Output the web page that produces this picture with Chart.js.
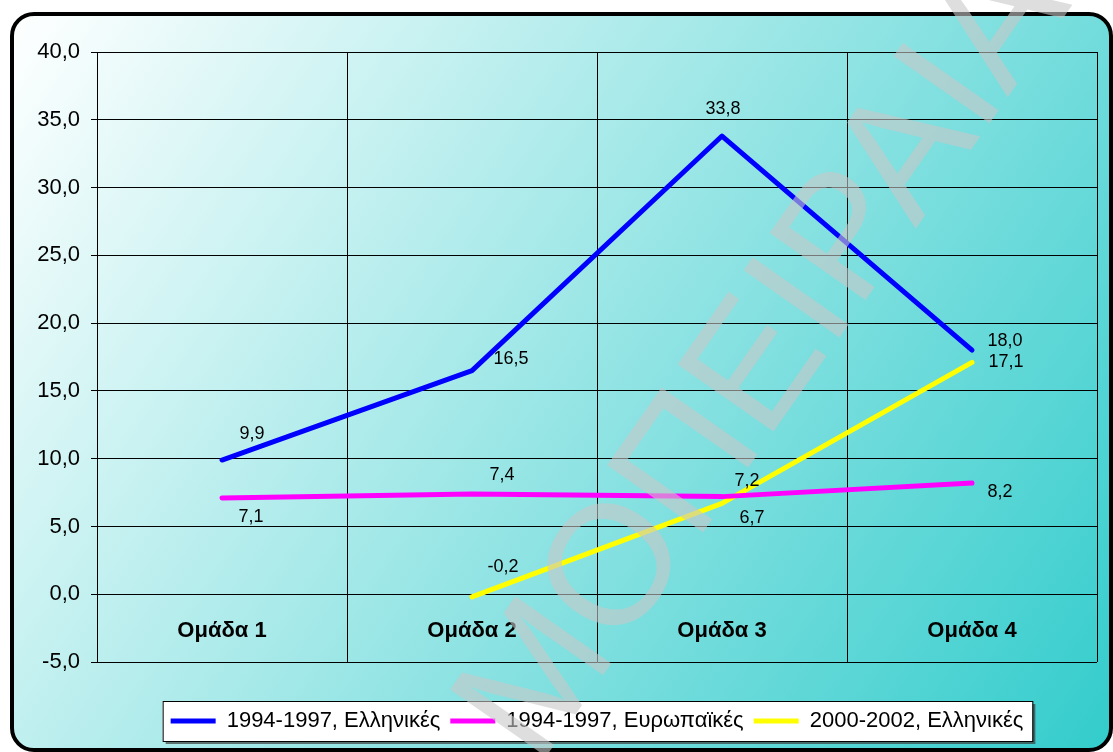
<!DOCTYPE html>
<html><head><meta charset="utf-8">
<script src="https://cdn.jsdelivr.net/npm/chart.js@4.4.0/dist/chart.umd.min.js"></script>
<style>html,body{margin:0;padding:0;background:#fff;}canvas{display:block;}</style>
</head><body>
<canvas id="c" width="1113" height="752"></canvas>
<script>
// ---- data ----
const categories = ['Ομάδα 1', 'Ομάδα 2', 'Ομάδα 3', 'Ομάδα 4'];
const seriesNames = ['1994-1997, Ελληνικές', '1994-1997, Ευρωπαϊκές', '2000-2002, Ελληνικές'];
const greek9497 = [9.9, 16.5, 33.8, 18.0];
const euro9497 = [7.1, 7.4, 7.2, 8.2];
const greek0002 = [null, -0.2, 6.7, 17.1];
const yMin = -5, yMax = 40, yStep = 5;
const watermarkText = 'ΜΟΠΕΙΡΑΙΑ';

// ---- style ----
const FONT = '"Liberation Sans", Arial, sans-serif';
const seriesColors = ['#0000ff', '#ff00ff', '#ffff00'];
const labelOffsets = [
  [[30, -26], [39, -12], [1, -27], [33, -9]],
  [[29, 19], [30, -19], [25, -16], [28, 9]],
  [[0, 0], [31, -30], [30, 15], [34, 0]]
];
const fmt = v => Number(v).toFixed(1).replace('.', ',');

const backgroundPlugin = {
  id: 'bg',
  beforeDraw(chart) {
    const ctx = chart.ctx;
    ctx.save();
    ctx.fillStyle = '#ffffff';
    ctx.fillRect(0, 0, chart.width, chart.height);
    const x = 12, y = 14, w = 1099, h = 736, r = 22;
    const g = ctx.createLinearGradient(x, y, x + w, y + h);
    g.addColorStop(0, '#ffffff');
    g.addColorStop(1, '#33cccc');
    ctx.beginPath();
    ctx.roundRect(x, y, w, h, r);
    ctx.fillStyle = g;
    ctx.fill();
    ctx.lineWidth = 4;
    ctx.strokeStyle = '#000';
    ctx.stroke();
    // legend frame
    const lg = chart.legend;
    if (lg && lg.lineWidths) {
      const pad = lg.options.labels.padding;
      const fs = lg.options.labels.font.size;
      const tH = lg._computeTitleHeight();
      const startX = (lg.left + pad + lg.right - lg.lineWidths[0]) / 2;
      const endX = startX + lg.lineWidths[0] - pad;
      const cy = lg.top + pad + tH + fs / 2;
      const bx = startX - 8, bw = endX + 9 - bx, by = cy - 20, bh = 40;
      ctx.fillStyle = 'rgba(60,60,60,0.7)';
      ctx.fillRect(bx + 3, by + 3, bw, bh);
      ctx.fillStyle = '#ffffff';
      ctx.fillRect(bx, by, bw, bh);
      ctx.lineWidth = 1;
      ctx.strokeStyle = '#000';
      ctx.strokeRect(bx + 0.5, by + 0.5, bw, bh);
    }
    ctx.restore();
  }
};

const dataLabelPlugin = {
  id: 'dataLabels',
  afterDatasetsDraw(chart) {
    const ctx = chart.ctx;
    ctx.save();
    ctx.font = '18px ' + FONT;
    ctx.fillStyle = '#000';
    ctx.textAlign = 'center';
    ctx.textBaseline = 'middle';
    chart.data.datasets.forEach((ds, di) => {
      const meta = chart.getDatasetMeta(di);
      meta.data.forEach((pt, i) => {
        const v = ds.data[i];
        if (v === null || v === undefined) return;
        const off = labelOffsets[di][i];
        ctx.fillText(fmt(v), pt.x + off[0], pt.y + off[1]);
      });
    });
    ctx.restore();
  }
};

const watermarkPlugin = {
  id: 'watermark',
  afterDraw(chart) {
    const ctx = chart.ctx;
    ctx.save();
    ctx.translate(538, 768);
    ctx.rotate(-55 * Math.PI / 180);
    ctx.font = '170px ' + FONT;
    ctx.fillStyle = 'rgba(200,200,200,0.6)';
    ctx.textBaseline = 'alphabetic';
    ctx.textAlign = 'left';
    ctx.fillText(watermarkText, 0, 0);
    ctx.restore();
  }
};

const mkDs = (label, data, color) => ({
  label, data,
  borderColor: color, backgroundColor: color,
  borderWidth: 5, tension: 0, pointRadius: 0, pointHoverRadius: 0,
  borderCapStyle: 'round', borderJoinStyle: 'round', fill: false
});

new Chart(document.getElementById('c'), {
  type: 'line',
  data: {
    labels: categories,
    datasets: [
      mkDs(seriesNames[0], greek9497, seriesColors[0]),
      mkDs(seriesNames[1], euro9497, seriesColors[1]),
      mkDs(seriesNames[2], greek0002, seriesColors[2])
    ]
  },
  options: {
    responsive: false,
    animation: false,
    devicePixelRatio: 1,
    events: [],
    layout: { padding: { left: 0, right: 16, top: 52, bottom: 10 } },
    scales: {
      x: {
        type: 'category',
        position: { y: 0 },
        offset: true,
        grid: { offset: true, color: '#000', lineWidth: 1, tickLength: 6, drawTicks: true },
        border: { color: '#000', width: 1 },
        ticks: { color: '#000', padding: 18, maxRotation: 0, font: { family: FONT, size: 22, weight: 'bold' } }
      },
      y: {
        min: yMin, max: yMax,
        grid: { color: '#000', lineWidth: 1, tickLength: 6 },
        border: { color: '#000', width: 1 },
        ticks: { stepSize: yStep, color: '#000', padding: 11, font: { family: FONT, size: 22 }, callback: v => fmt(v) },
        afterFit(scale) { scale.width = 97; }
      }
    },
    plugins: {
      tooltip: { enabled: false },
      legend: {
        position: 'bottom',
        fullSize: false,
        title: { display: true, text: '', padding: { top: 28, bottom: 0 }, font: { size: 10, lineHeight: 1 } },
        labels: {
          usePointStyle: true, pointStyle: 'line', pointStyleWidth: 45,
          padding: 10, color: '#000', font: { family: FONT, size: 22 }
        }
      }
    }
  },
  plugins: [backgroundPlugin, dataLabelPlugin, watermarkPlugin]
});
</script>
</body></html>
